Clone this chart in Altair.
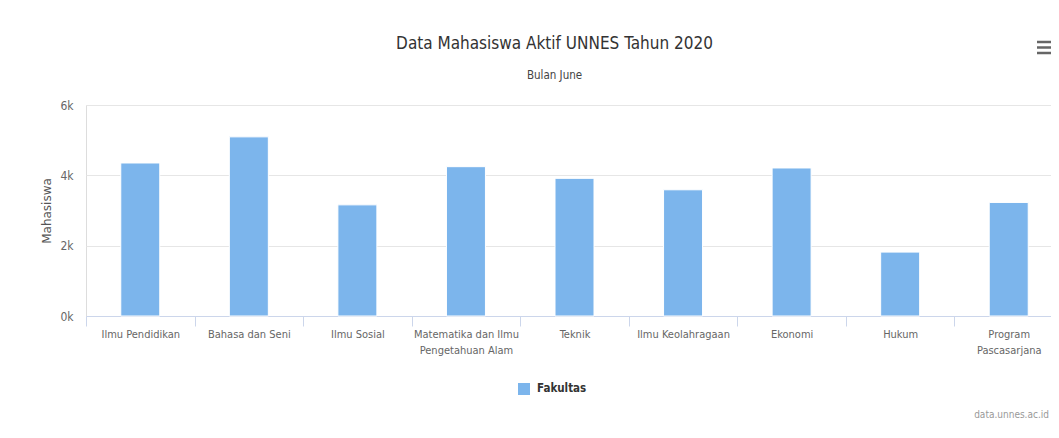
import altair as alt
import pandas as pd

categories = [
    "Ilmu Pendidikan",
    "Bahasa dan Seni",
    "Ilmu Sosial",
    "Matematika dan Ilmu Pengetahuan Alam",
    "Teknik",
    "Ilmu Keolahragaan",
    "Ekonomi",
    "Hukum",
    "Program Pascasarjana",
]
values = [4351, 5094, 3160, 4246, 3914, 3589, 4209, 1817, 3229]
series_name = "Fakultas"
y_ticks = [0, 2000, 4000, 6000]

FONT = "Liberation Sans Narrow, DejaVu Sans Condensed, sans-serif"

df = pd.DataFrame({"Fakultas_name": categories, "Mahasiswa": values, "series": series_name})

label_expr = (
    "datum.label == 'Matematika dan Ilmu Pengetahuan Alam' ? ['Matematika dan Ilmu', 'Pengetahuan Alam'] : "
    "datum.label == 'Program Pascasarjana' ? ['Program', 'Pascasarjana'] : datum.label"
)

bars = alt.Chart(df).mark_bar(size=39, stroke="white", strokeWidth=1).encode(
    x=alt.X(
        "Fakultas_name:N",
        sort=categories,
        title=None,
        scale=alt.Scale(paddingInner=0, paddingOuter=0, range=[0, 977]),
        axis=alt.Axis(
            labelAngle=0,
            labelExpr=label_expr,
            labelFont=FONT,
            labelFontSize=11,
            labelColor="#666666",
            labelLineHeight=16,
            labelPadding=2,
            labelBaseline="top",
            tickBand="extent",
            tickSize=10,
            tickColor="#ccd6eb",
            domainColor="#ccd6eb",
            grid=False,
            labelLimit=200,
        ),
    ),
    y=alt.Y(
        "Mahasiswa:Q",
        scale=alt.Scale(domain=[0, 6000], nice=False),
        axis=alt.Axis(
            values=y_ticks,
            labelExpr="(datum.value / 1000) + 'k'",
            labelFont=FONT,
            labelFontSize=12,
            labelColor="#666666",
            labelPadding=13,
            ticks=False,
            domain=False,
            gridColor="#e6e6e6",
            title="Mahasiswa",
            titleFont="DejaVu Sans, sans-serif",
            titleFontSize=12,
            titleFontWeight="normal",
            titleColor="#555555",
            titlePadding=6,
        ),
    ),
    color=alt.Color(
        "series:N",
        scale=alt.Scale(domain=[series_name], range=["#7cb5ec"]),
        legend=alt.Legend(
            title=None,
            orient="none",
            legendX=432,
            legendY=278,
            symbolType="square",
            symbolSize=144,
            symbolStrokeWidth=0,
            labelFont=FONT,
            labelFontSize=11.5,
            labelFontWeight="bold",
            labelColor="#333333",
            labelOffset=7,
        ),
    ),
)

credit = alt.Chart(pd.DataFrame({"t": ["data.unnes.ac.id"]})).mark_text(
    align="right", baseline="middle", font=FONT, fontSize=10, color="#999999"
).encode(text="t:N", x=alt.value(963), y=alt.value(310))

menu_layers = []
for yy in [-63, -57.5, -52]:
    menu_layers.append(
        alt.Chart(pd.DataFrame({"k": [0]})).mark_rule(color="#666666", strokeWidth=2.5).encode(
            x=alt.value(951), x2=alt.value(965), y=alt.value(yy)
        )
    )

chart = alt.layer(bars, credit, *menu_layers).properties(
    width=965,
    height=211,
    autosize=alt.AutoSizeParams(type="none"),
    padding={"left": 78, "top": 97, "right": 0, "bottom": 114},
    title=alt.TitleParams(
        text="Data Mahasiswa Aktif UNNES Tahun 2020",
        subtitle="Bulan June",
        font=FONT,
        fontSize=17,
        fontWeight="normal",
        color="#333333",
        subtitleFont=FONT,
        subtitleFontSize=11.5,
        subtitleColor="#444444",
        subtitlePadding=17,
        anchor="middle",
        frame="group",
        dx=-14,
        offset=-42,
    ),
).configure_view(stroke=None).configure(background="white")

chart.save("out.html", embed_options={"renderer": "svg", "actions": False})
